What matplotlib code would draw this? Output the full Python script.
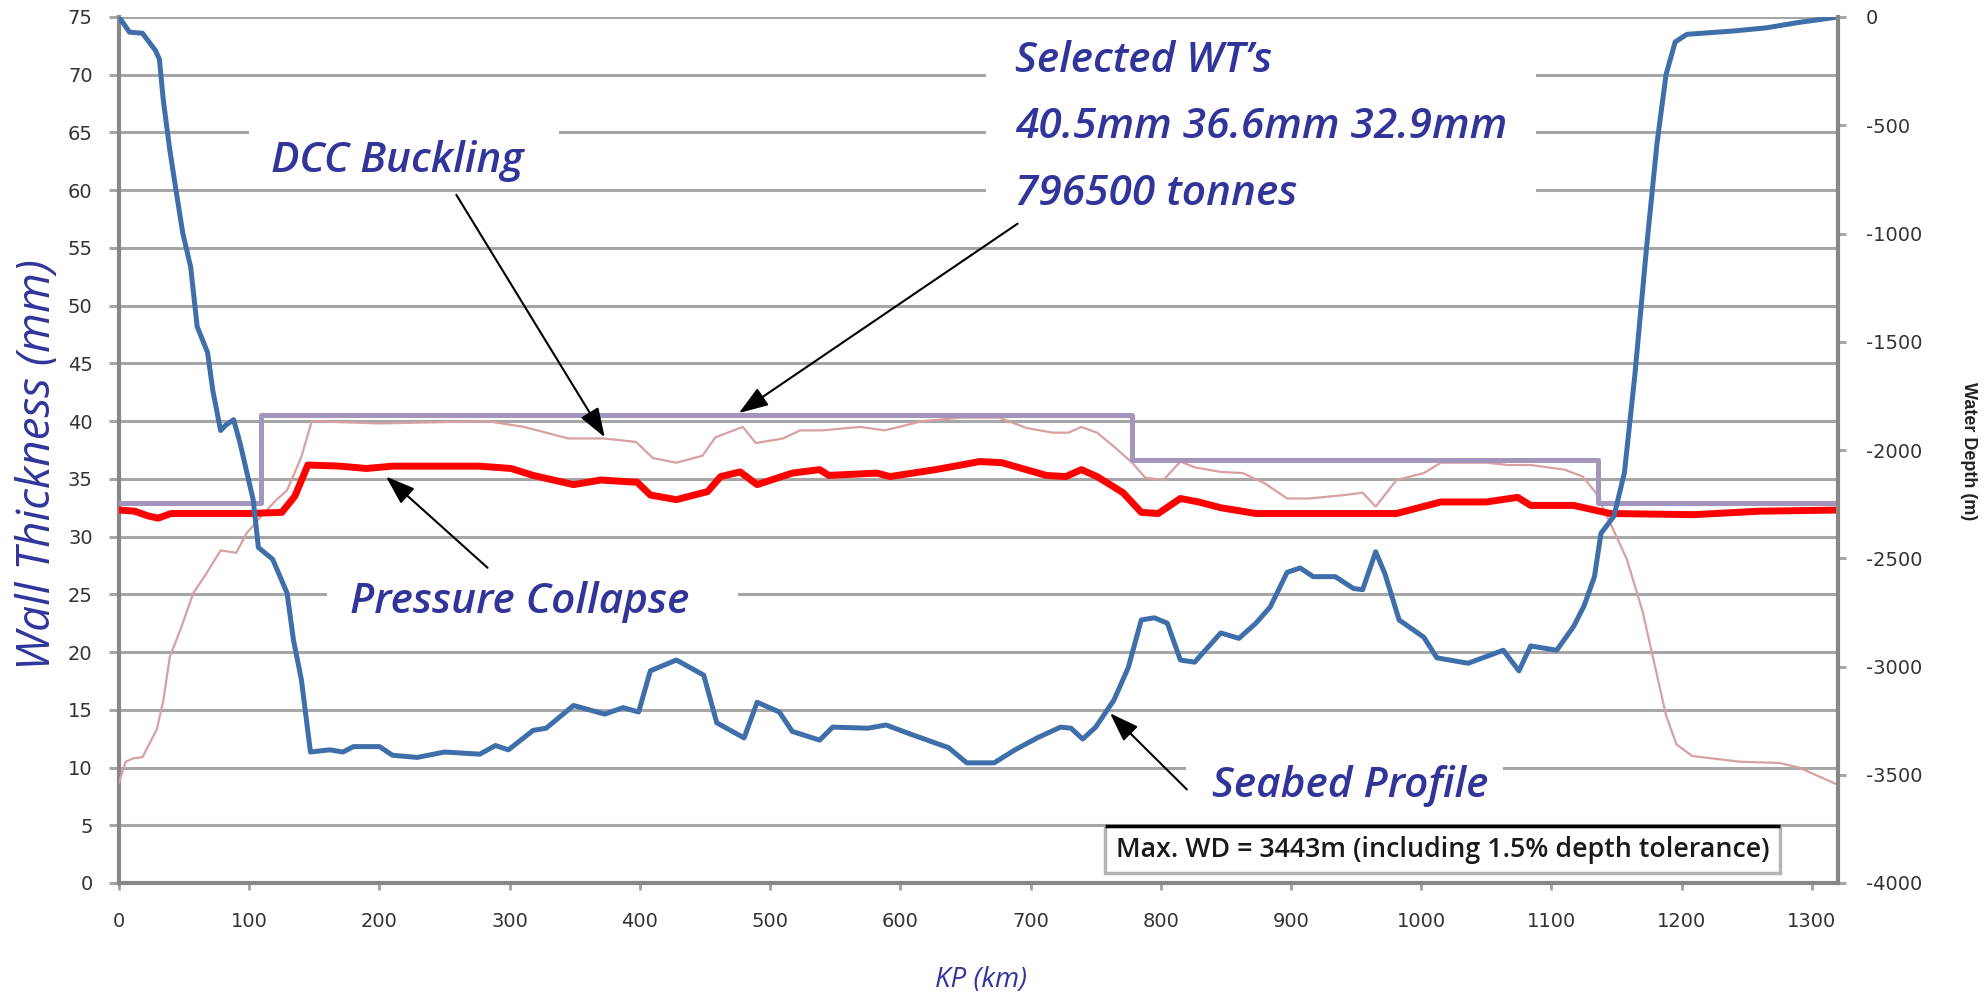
import matplotlib.pyplot as plt
from matplotlib.patches import Rectangle

navy = '#31359A'
grid_grey = '#A6A6A6'
axis_grey = '#878787'

# seabed profile: KP (km) vs water depth (m), right axis
seabed_kp = [0, 8, 18, 28, 31, 34, 39, 44, 49, 55,
             60, 68, 72, 78, 82, 88, 93, 103, 107, 118,
             129, 134, 140, 147, 154, 162, 172, 180, 200, 210,
             229, 250, 277, 289, 299, 318, 328, 349, 373, 387,
             399, 408, 428, 449, 459, 480, 490, 507, 517, 538,
             548, 575, 589, 609, 637, 651, 672, 688, 705, 723,
             731, 740, 750, 764, 775, 785, 795, 805, 815, 826,
             846, 860, 873, 884, 897, 907, 917, 934, 948, 955,
             965, 972, 983, 1002, 1012, 1036, 1063, 1075, 1084, 1104,
             1117, 1125, 1133, 1138, 1148, 1156, 1164, 1173, 1181, 1188,
             1195, 1204, 1239, 1265, 1290, 1320]
seabed_depth = [0, -70, -75, -155, -195, -385, -615, -810, -1000, -1155,
                -1430, -1550, -1725, -1910, -1885, -1860, -1970, -2230, -2450, -2505,
                -2660, -2880, -3060, -3395, -3390, -3385, -3395, -3370, -3370, -3410,
                -3420, -3395, -3405, -3365, -3385, -3295, -3285, -3180, -3220, -3190,
                -3210, -3020, -2970, -3040, -3260, -3330, -3165, -3210, -3300, -3340,
                -3280, -3285, -3270, -3315, -3375, -3445, -3445, -3385, -3330, -3280,
                -3285, -3335, -3280, -3155, -3005, -2785, -2775, -2800, -2970, -2980,
                -2845, -2870, -2800, -2725, -2565, -2545, -2585, -2585, -2640, -2645,
                -2470, -2570, -2785, -2865, -2960, -2985, -2925, -3020, -2905, -2925,
                -2815, -2720, -2585, -2385, -2305, -2105, -1655, -1065, -585, -265,
                -115, -80, -65, -50, -25, 0]

# pressure collapse wall thickness (mm)
collapse_kp = [0, 12, 22, 30, 40, 100, 125, 135, 145, 170,
               190, 210, 277, 301, 318, 349, 370, 398, 408, 428,
               452, 462, 477, 490, 517, 538, 545, 582, 592, 627,
               661, 678, 712, 727, 739, 751, 771, 785, 798, 815,
               829, 846, 873, 981, 1015, 1050, 1074, 1084, 1117, 1145,
               1209, 1260, 1320]
collapse_wt = [32.3, 32.2, 31.8, 31.6, 32.0, 32.0, 32.1, 33.5, 36.2, 36.1,
               35.9, 36.1, 36.1, 35.9, 35.3, 34.5, 34.9, 34.7, 33.6, 33.2,
               33.9, 35.2, 35.6, 34.5, 35.5, 35.8, 35.3, 35.5, 35.2, 35.8,
               36.5, 36.4, 35.3, 35.2, 35.8, 35.2, 33.8, 32.1, 32.0, 33.3,
               33.0, 32.5, 32.0, 32.0, 33.0, 33.0, 33.4, 32.7, 32.7, 32.0,
               31.9, 32.2, 32.3]

# DCC buckling wall thickness (mm)
buckling_kp = [0, 5, 11, 18, 29, 34, 39, 47, 57, 67,
               78, 90, 98, 111, 121, 129, 140, 148, 200, 283,
               311, 345, 372, 397, 410, 428, 448, 458, 479, 489,
               510, 523, 540, 569, 588, 617, 647, 676, 697, 717,
               729, 739, 751, 764, 778, 788, 802, 815, 826, 846,
               863, 880, 897, 914, 941, 955, 965, 981, 1002, 1015,
               1050, 1067, 1084, 1110, 1124, 1134, 1145, 1158, 1170, 1180,
               1188, 1196, 1208, 1245, 1275, 1290, 1320]
buckling_wt = [8.7, 10.5, 10.8, 10.9, 13.3, 15.8, 19.6, 21.9, 25.1, 26.8,
               28.8, 28.6, 30.3, 32.0, 33.2, 34.0, 36.9, 40.0, 39.8, 40.0,
               39.5, 38.5, 38.5, 38.2, 36.8, 36.4, 37.0, 38.6, 39.5, 38.1,
               38.5, 39.2, 39.2, 39.5, 39.2, 40.0, 40.3, 40.3, 39.4, 39.0,
               39.0, 39.5, 39.0, 37.8, 36.4, 35.1, 34.9, 36.5, 36.0, 35.6,
               35.5, 34.6, 33.3, 33.3, 33.6, 33.8, 32.6, 34.9, 35.5, 36.4,
               36.4, 36.2, 36.2, 35.8, 35.2, 33.8, 31.2, 28.0, 23.5, 18.5,
               14.5, 12.0, 11.0, 10.5, 10.4, 10.0, 8.5]

# selected wall thickness sections
wt_change_kp = [0, 109, 778, 1136, 1320]
wt_selected = [32.9, 40.5, 36.6, 32.9, 32.9]

x_ticks = list(range(0, 1301, 100))
wt_ticks = list(range(0, 76, 5))
depth_ticks = list(range(-4000, 1, 500))

fig = plt.figure(figsize=(19.84, 10), dpi=100)
ax = fig.add_axes([0.06, 0.117, 0.8664, 0.866])
ax.set_xlim(0, 1320)
ax.set_ylim(0, 75)
ax.set_xticks(x_ticks)
ax.set_yticks(wt_ticks)
ax.yaxis.grid(True, color=grid_grey, lw=2.2)
ax.set_axisbelow(True)
for s in ['top', 'right']:
    ax.spines[s].set_visible(False)
for s in ['left', 'bottom']:
    ax.spines[s].set_color(axis_grey)
    ax.spines[s].set_linewidth(3)
ax.tick_params(axis='y', direction='out', length=7, width=2.2, color=grid_grey,
               pad=12, labelsize=14, labelcolor='#333333')
ax.tick_params(axis='x', direction='out', length=5, width=2, color='#A0A0A0',
               pad=16, labelsize=14, labelcolor='#333333')

ax2 = ax.twinx()
ax2.set_ylim(-4000, 0)
ax2.set_yticks(depth_ticks)
ax2.set_yticklabels([str(v) for v in depth_ticks])
for s in ['top', 'left', 'bottom']:
    ax2.spines[s].set_visible(False)
ax2.spines['right'].set_color(axis_grey)
ax2.spines['right'].set_linewidth(3)
ax2.tick_params(axis='y', direction='out', length=6, width=2.2, color=grid_grey,
                pad=14, labelsize=14, labelcolor='#333333')

# white patches behind the annotation texts (break the gridlines)
def blank(x0, x1, y0, y1):
    ax.add_patch(Rectangle((x0, y0), x1 - x0, y1 - y0, facecolor='white',
                           edgecolor='none', zorder=1))

blank(666, 1088, 57.5, 72.5)
blank(100, 338, 61, 67)
blank(160, 475, 23, 27)
blank(819, 1063, 8.5, 11.5)

ax.plot(buckling_kp, buckling_wt, color='#D9A0A0', lw=1.6, zorder=3)
ax.plot(collapse_kp, collapse_wt, color='#FF0000', lw=5, zorder=4,
        solid_joinstyle='round')
ax.step(wt_change_kp, wt_selected, where='post', color='#A395BC', lw=3.6, zorder=5)
ax2.plot(seabed_kp, seabed_depth, color='#3F6FAA', lw=3.6, solid_joinstyle='round')

tfont = dict(family='Open Sans', style='italic', weight='semibold', color=navy,
             fontsize=30.5, zorder=2)
ax.text(688, 70.2, 'Selected WT’s', va='baseline', **tfont)
ax.text(688, 64.5, '40.5mm 36.6mm 32.9mm', va='baseline', **tfont)
ax.text(688, 58.7, '796500 tonnes', va='baseline', **tfont)
ax.text(117, 61.6, 'DCC Buckling', va='baseline', **tfont)
ax.text(177, 23.4, 'Pressure Collapse', va='baseline', **tfont)
ax.text(839, 7.45, 'Seabed Profile', va='baseline', **tfont)

arrow = dict(arrowstyle='-|>,head_length=1.0,head_width=0.35', color='black',
             lw=1.5, mutation_scale=18, shrinkA=0, shrinkB=0)
ax.annotate('', xy=(373, 38.6), xytext=(259, 59.6), arrowprops=arrow, zorder=6)
ax.annotate('', xy=(476, 40.7), xytext=(690, 57.1), arrowprops=arrow, zorder=6)
ax.annotate('', xy=(205, 35.2), xytext=(283, 27.3), arrowprops=arrow, zorder=6)
ax.annotate('', xy=(761, 14.7), xytext=(820, 8.1), arrowprops=arrow, zorder=6)

# max water depth note box
ax.add_patch(Rectangle((0.5736, 0.0115), 0.3927, 0.0543, transform=ax.transAxes,
                       facecolor='white', edgecolor='#B4B4B4', lw=2.5, zorder=7))
ax.plot([0.5736, 0.9663], [0.0658, 0.0658], transform=ax.transAxes,
        color='black', lw=2.5, zorder=8, solid_capstyle='butt')
ax.text(0.5800, 0.038, 'Max. WD = 3443m (including 1.5% depth tolerance)',
        transform=ax.transAxes, va='center', ha='left', fontsize=19.3,
        family='Open Sans', weight='semibold', color='#1A1A1A', zorder=9)

fig.text(0.0191, 0.535, 'Wall Thickness (mm)', rotation=90, va='center',
         ha='center', family='Open Sans', style='italic', fontsize=33, color=navy)
fig.text(0.4945, 0.02, 'KP (km)', va='center', ha='center', family='Open Sans',
         style='italic', fontsize=20, color=navy)
fig.text(0.992, 0.549, 'Water Depth (m)', rotation=270, va='center', ha='center',
         family='Liberation Sans', weight='bold', fontsize=13, color='#222222')

fig.savefig('out.png', dpi=100)
